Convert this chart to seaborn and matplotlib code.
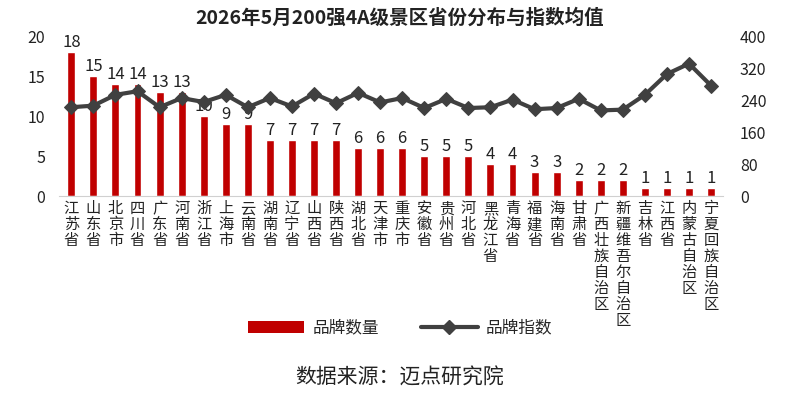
import numpy as np
import pandas as pd
import seaborn as sns
import matplotlib
matplotlib.use("Agg")
import matplotlib.pyplot as plt
from matplotlib.patches import Patch
from matplotlib.lines import Line2D

provinces = ['江苏省', '山东省', '北京市', '四川省', '广东省', '河南省', '浙江省', '上海市',
             '云南省', '湖南省', '辽宁省', '山西省', '陕西省', '湖北省', '天津市', '重庆市',
             '安徽省', '贵州省', '河北省', '黑龙江省', '青海省', '福建省', '海南省', '甘肃省',
             '广西壮族自治区', '新疆维吾尔自治区', '吉林省', '江西省', '内蒙古自治区', '宁夏回族自治区']
brand_count = [18, 15, 14, 14, 13, 13, 10, 9, 9, 7, 7, 7, 7, 6, 6, 6,
               5, 5, 5, 4, 4, 3, 3, 2, 2, 2, 1, 1, 1, 1]
brand_index = [222, 226, 253, 262, 222, 245, 235, 253, 222, 245, 224, 256, 232, 258, 234, 245,
               220, 243, 220, 222, 241, 217, 220, 243, 214, 216, 253, 305, 331, 276]

sns.set_style("white")
plt.rcParams['font.family'] = ['Noto Sans CJK SC', 'DejaVu Sans']

bar_color = '#C00000'
line_color = '#404040'
text_color = '#222222'

df = pd.DataFrame({'省份': provinces, '品牌数量': brand_count, '品牌指数': brand_index})

fig = plt.figure(figsize=(8, 4.05), dpi=100)
ax = fig.add_axes([0.074, 0.516, 0.83, 0.395])

sns.barplot(data=df, x='省份', y='品牌数量', color=bar_color, width=0.36, ax=ax, saturation=1)
ax.bar_label(ax.containers[0], padding=1, fontsize=12, color=text_color)
ax.set_ylim(0, 20)
ax.set_yticks([0, 5, 10, 15, 20])
ax.set_xlim(-0.55, len(provinces) - 0.45)
ax.set_xlabel('')
ax.set_ylabel('')
ax.set_xticks(range(len(provinces)))
ax.set_xticklabels(['\n'.join(p) for p in provinces], fontsize=11, linespacing=0.92,
                   va='top', color=text_color)
ax.tick_params(axis='x', length=0, pad=3)
ax.tick_params(axis='y', length=0, labelsize=11.5, labelcolor=text_color, pad=10)
for s in ['top', 'left', 'right']:
    ax.spines[s].set_visible(False)
ax.spines['bottom'].set_color('#d0d0d0')

ax2 = ax.twinx()
sns.lineplot(x=np.arange(len(provinces)), y=df['品牌指数'], ax=ax2, color=line_color,
             linewidth=3, marker='D', markersize=7, markeredgecolor=line_color)
ax2.set_ylim(0, 400)
ax2.set_yticks([0, 80, 160, 240, 320, 400])
ax2.set_ylabel('')
ax2.tick_params(axis='y', length=0, labelsize=11.5, labelcolor=text_color, pad=12)
for s in ['top', 'left', 'right', 'bottom']:
    ax2.spines[s].set_visible(False)

fig.text(0.5, 0.955, '2026年5月200强4A级景区省份分布与指数均值', ha='center', va='center',
         fontsize=14, fontweight='bold', color=text_color)

handles = [Patch(facecolor=bar_color, edgecolor='none'),
           Line2D([0], [0], color=line_color, lw=3, marker='D', markersize=7)]
fig.legend(handles, ['品牌数量', '品牌指数'], loc='center', bbox_to_anchor=(0.5, 0.19),
           ncol=2, frameon=False, fontsize=12, handlelength=3.4, columnspacing=2.5,
           handletextpad=0.5)

fig.text(0.5, 0.068, '数据来源：迈点研究院', ha='center', va='center', fontsize=15,
         color=text_color)

fig.savefig('out.png', dpi=100)
